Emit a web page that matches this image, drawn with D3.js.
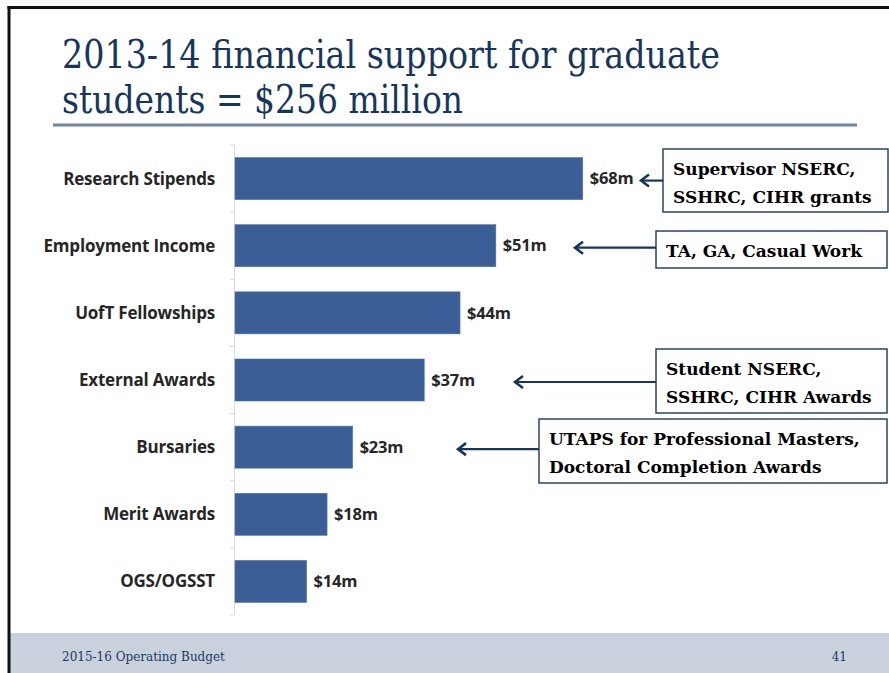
<!DOCTYPE html>
<html>
<head>
<meta charset="utf-8">
<script src="https://cdn.jsdelivr.net/npm/d3@7/dist/d3.min.js"></script>
<style>
  html, body { margin: 0; padding: 0; background: #ffffff; }
  svg { display: block; }
</style>
</head>
<body>
<script>
// ---- Data ----
const titleLines = ["2013-14 financial support for graduate", "students = $256 million"];
const categories = ["Research Stipends", "Employment Income", "UofT Fellowships", "External Awards", "Bursaries", "Merit Awards", "OGS/OGSST"];
const values = [68, 51, 44, 37, 23, 18, 14];
const valueLabels = ["$68m", "$51m", "$44m", "$37m", "$23m", "$18m", "$14m"];
const noteTexts = [
  ["Supervisor NSERC,", "SSHRC, CIHR grants"],
  ["TA, GA, Casual Work"],
  ["Student NSERC,", "SSHRC, CIHR Awards"],
  ["UTAPS for Professional Masters,", "Doctoral Completion Awards"]
];
const noteTargets = ["Research Stipends", "Employment Income", "External Awards", "Bursaries"];
const footerLeft = "2015-16 Operating Budget";
const footerRight = "41";

// ---- Layout ----
const W = 889, H = 673;
const svg = d3.select("body").append("svg").attr("width", W).attr("height", H);

// slide frame
svg.append("rect").attr("x", 10).attr("y", 633).attr("width", W - 10).attr("height", 40).attr("fill", "#c9d1dc");
svg.append("line").attr("x1", 7.5).attr("x2", W).attr("y1", 7.5).attr("y2", 7.5).attr("stroke", "#111").attr("stroke-width", 3);
svg.append("line").attr("x1", 9).attr("x2", 9).attr("y1", 6).attr("y2", H).attr("stroke", "#111").attr("stroke-width", 3);

// title
const titleLayout = [{x: 62, y: 68, len: 658}, {x: 62, y: 113, len: 401}];
svg.selectAll("text.title").data(titleLines).enter().append("text")
  .attr("class", "title")
  .attr("x", (d, i) => titleLayout[i].x)
  .attr("y", (d, i) => titleLayout[i].y)
  .attr("textLength", (d, i) => titleLayout[i].len)
  .attr("lengthAdjust", "spacingAndGlyphs")
  .attr("font-family", "'DejaVu Serif', serif")
  .attr("font-size", 40)
  .attr("fill", "#17365d")
  .text(d => d);
svg.append("line").attr("x1", 53).attr("x2", 857).attr("y1", 125).attr("y2", 125)
  .attr("stroke", "#6f86a8").attr("stroke-width", 3);

// scales
const x = d3.scaleLinear().domain([0, 70]).range([235, 593]);
const y = d3.scaleBand().domain(categories).range([145, 615]).paddingInner(0.374).paddingOuter(0.187);

// axis line + ticks at band boundaries
const step = y.step();
svg.append("line").attr("x1", x(0) - 0.5).attr("x2", x(0) - 0.5).attr("y1", 145).attr("y2", 615)
  .attr("stroke", "#d9d9d9").attr("stroke-width", 1);
svg.selectAll("line.tick").data(d3.range(categories.length + 1)).enter().append("line")
  .attr("class", "tick")
  .attr("x1", x(0) - 5).attr("x2", x(0))
  .attr("y1", i => 145 + i * step).attr("y2", i => 145 + i * step)
  .attr("stroke", "#d9d9d9").attr("stroke-width", 1);

// bars
const data = categories.map((c, i) => ({cat: c, v: values[i], label: valueLabels[i]}));
svg.selectAll("rect.bar").data(data).enter().append("rect")
  .attr("class", "bar")
  .attr("x", x(0))
  .attr("y", d => y(d.cat))
  .attr("width", d => x(d.v) - x(0))
  .attr("height", y.bandwidth())
  .attr("fill", "#3a5e95")
  .attr("stroke", "#5274a6").attr("stroke-width", 0.6);

// category labels
svg.selectAll("text.cat").data(data).enter().append("text")
  .attr("class", "cat")
  .attr("x", x(0) - 20)
  .attr("y", d => y(d.cat) + y.bandwidth() / 2)
  .attr("dy", "0.35em")
  .attr("text-anchor", "end")
  .attr("font-family", "'Open Sans', Lato, sans-serif")
  .attr("font-weight", "bold")
  .attr("font-size", 17)
  .attr("letter-spacing", -0.2)
  .attr("fill", "#262626")
  .text(d => d.cat);

// value labels
svg.selectAll("text.val").data(data).enter().append("text")
  .attr("class", "val")
  .attr("x", d => x(d.v) + 7)
  .attr("y", d => y(d.cat) + y.bandwidth() / 2)
  .attr("dy", "0.35em")
  .attr("font-family", "'Open Sans', Lato, sans-serif")
  .attr("font-weight", "bold")
  .attr("font-size", 16.5)
  .attr("letter-spacing", -0.2)
  .attr("fill", "#262626")
  .text(d => d.label);

// annotation boxes + arrows
const noteBoxes = [
  {x: 663, y: 149, w: 225, h: 63, tip: 641},
  {x: 656, y: 231, w: 231, h: 37, tip: 575},
  {x: 656, y: 349, w: 231, h: 64, tip: 515},
  {x: 539, y: 419, w: 348, h: 64, tip: 458}
];
const arrowColor = "#17365d";
noteTexts.forEach((lines, i) => {
  const b = noteBoxes[i];
  const g = svg.append("g");
  g.append("rect").attr("x", b.x).attr("y", b.y).attr("width", b.w).attr("height", b.h)
    .attr("fill", "#ffffff").attr("stroke", "#2b4468").attr("stroke-width", 1.5);
  const first = lines.length === 1 ? b.h / 2 + 7 : 26;
  lines.forEach((t, j) => {
    g.append("text")
      .attr("x", b.x + 10)
      .attr("y", b.y + first + j * 28)
      .attr("font-family", "'DejaVu Serif', serif")
      .attr("font-weight", "bold")
      .attr("font-size", 17)
      .attr("fill", "#000")
      .text(t);
  });
  const ay = y(noteTargets[i]) + y.bandwidth() / 2 + 2;
  g.append("line").attr("x1", b.x).attr("x2", b.tip + 1).attr("y1", ay).attr("y2", ay)
    .attr("stroke", arrowColor).attr("stroke-width", 2.2);
  g.append("path")
    .attr("d", `M${b.tip + 8},${ay - 6} L${b.tip},${ay} L${b.tip + 8},${ay + 6}`)
    .attr("fill", "none").attr("stroke", arrowColor).attr("stroke-width", 2.6)
    .attr("stroke-linejoin", "miter");
});

// footer
svg.append("text").attr("x", 62).attr("y", 661)
  .attr("font-family", "'DejaVu Serif', serif").attr("font-size", 12)
  .attr("fill", "#1f3864").text(footerLeft);
svg.append("text").attr("x", 847).attr("y", 661).attr("text-anchor", "end")
  .attr("font-family", "'DejaVu Serif', serif").attr("font-size", 12)
  .attr("fill", "#1f3864").text(footerRight);
</script>
</body>
</html>
